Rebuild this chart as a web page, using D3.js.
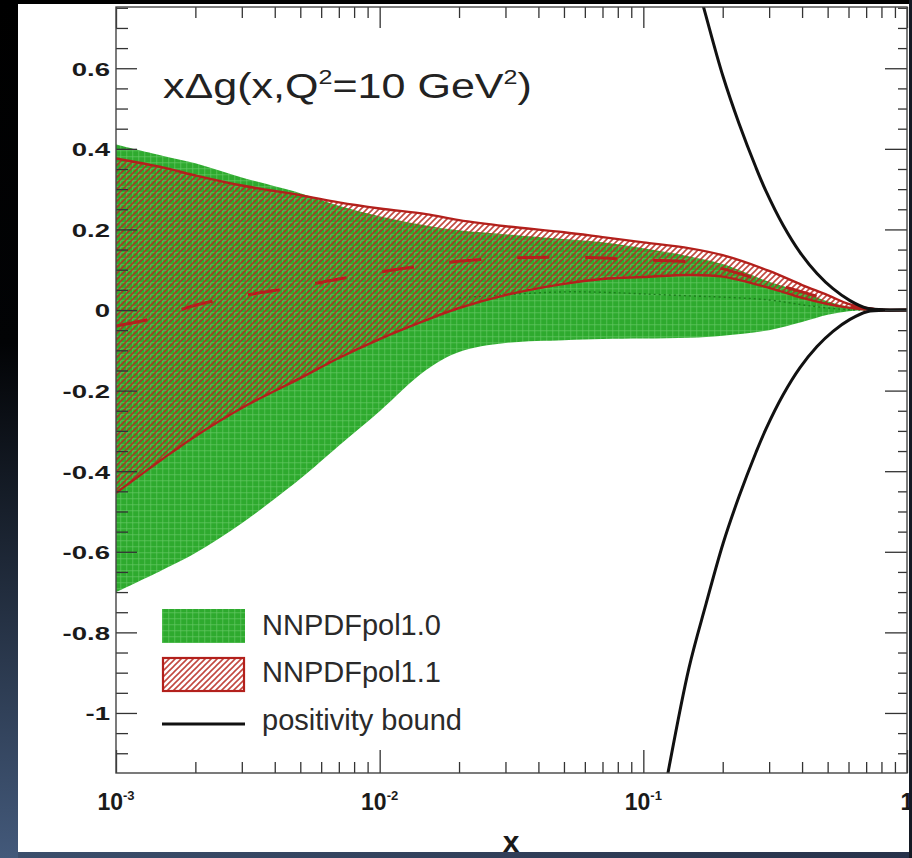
<!DOCTYPE html>
<html><head><meta charset="utf-8">
<script src="https://cdn.jsdelivr.net/npm/d3@7"></script>
<style>html,body{margin:0;padding:0;background:#000;} svg{display:block;}</style>
</head><body>
<svg id="chart" width="912" height="858"></svg>
<script>
// ---------------- data ----------------
const xGrid = [0.001, 0.0015, 0.002, 0.003, 0.005, 0.007, 0.01, 0.015, 0.02, 0.03, 0.05, 0.07, 0.1, 0.15, 0.2, 0.3, 0.4, 0.5, 0.6, 0.7, 0.8, 1.0];
const pol10Upper = [0.411, 0.383, 0.364, 0.329, 0.290, 0.259, 0.233, 0.210, 0.198, 0.188, 0.176, 0.168, 0.153, 0.133, 0.114, 0.070, 0.045, 0.022, 0.008, 0.002, 0.0, 0.0];
const pol10Lower = [-0.700, -0.645, -0.603, -0.529, -0.419, -0.337, -0.251, -0.149, -0.104, -0.082, -0.075, -0.072, -0.071, -0.069, -0.064, -0.050, -0.030, -0.012, -0.003, 0.0, 0.0, 0.0];
const pol11Upper = [0.376, 0.354, 0.334, 0.309, 0.285, 0.267, 0.252, 0.238, 0.223, 0.208, 0.193, 0.181, 0.168, 0.153, 0.136, 0.097, 0.062, 0.037, 0.015, 0.005, 0.0, 0.0];
const pol11Central = [-0.040, -0.015, 0.012, 0.035, 0.059, 0.077, 0.094, 0.111, 0.121, 0.129, 0.131, 0.129, 0.124, 0.119, 0.102, 0.068, 0.045, 0.026, 0.011, 0.004, 0.0, 0.0];
const pol11Lower = [-0.454, -0.370, -0.313, -0.243, -0.169, -0.119, -0.072, -0.025, 0.005, 0.037, 0.065, 0.077, 0.082, 0.087, 0.083, 0.055, 0.030, 0.015, 0.006, 0.001, 0.0, 0.0];
const pol10CentralX = [0.02, 0.03, 0.05, 0.07, 0.1, 0.15, 0.2, 0.3, 0.4, 0.5, 0.6, 0.7];
const pol10Central = [0.030, 0.038, 0.045, 0.044, 0.040, 0.035, 0.032, 0.025, 0.013, 0.005, 0.001, 0.0];
const boundX = [0.115, 0.124, 0.149, 0.1728, 0.2005, 0.2306, 0.2676, 0.2919, 0.3386, 0.3928, 0.4557, 0.524, 0.6078, 0.7051, 0.8619, 1.0];
const boundVal = [1.27, 1.149, 0.888, 0.73, 0.580, 0.463, 0.353, 0.295, 0.211, 0.143, 0.0906, 0.0529, 0.0233, 0.0042, 0.0003, 0.0];
const xMajorTicks = [0.001, 0.01, 0.1, 1];
const xTickExponents = ["-3", "-2", "-1", ""];
const yMajorTicks = [-1, -0.8, -0.6, -0.4, -0.2, 0, 0.2, 0.4, 0.6];
const legendLabels = ["NNPDFpol1.0", "NNPDFpol1.1", "positivity bound"];
const titleParts = ["x\u0394g(x,Q", "2", "=10 GeV", "2", ")"];

// ---------------- setup ----------------
const W = 912, H = 858;
const svg = d3.select('#chart');
const defs = svg.append('defs');
const FONT = "'Liberation Sans', Arial, Helvetica, sans-serif";

const bg = defs.append('linearGradient').attr('id', 'bgGrad').attr('x1', 0).attr('y1', 0).attr('x2', 0).attr('y2', 1);
bg.append('stop').attr('offset', '0%').attr('stop-color', '#000');
bg.append('stop').attr('offset', '40%').attr('stop-color', '#020305');
bg.append('stop').attr('offset', '100%').attr('stop-color', '#43597a');
const bot = defs.append('linearGradient').attr('id', 'botGrad').attr('x1', 0).attr('y1', 0).attr('x2', 1).attr('y2', 0);
bot.append('stop').attr('offset', '0%').attr('stop-color', '#3b4e6b');
bot.append('stop').attr('offset', '100%').attr('stop-color', '#27324a');

// green band fill
const gp = defs.append('pattern').attr('id', 'greenFill').attr('patternUnits', 'userSpaceOnUse').attr('width', 6).attr('height', 6);
gp.append('rect').attr('width', 6).attr('height', 6).attr('fill', '#2eaa2e');
gp.append('rect').attr('width', 1.3).attr('height', 6).attr('fill', '#66c866').attr('opacity', 0.5);
gp.append('rect').attr('width', 6).attr('height', 1.3).attr('fill', '#66c866').attr('opacity', 0.5);
// red hatch
const hp = defs.append('pattern').attr('id', 'redHatch').attr('patternUnits', 'userSpaceOnUse').attr('width', 6).attr('height', 6);
hp.append('path').attr('d', 'M-1,1 L1,-1 M0,6 L6,0 M5,7 L7,5').attr('stroke', '#b8281f').attr('stroke-width', 1.6).attr('stroke-opacity', 0.85);

svg.append('rect').attr('width', W).attr('height', H).attr('fill', 'url(#bgGrad)');
svg.append('rect').attr('x', 18).attr('y', 4).attr('width', 891).attr('height', 849).attr('fill', '#fff');

const plot = {left: 116, right: 907, top: 7, bottom: 773};
const x = d3.scaleLog().domain([1e-3, 1]).range([plot.left, plot.right]);
const y = d3.scaleLinear().domain([-1.149, 0.752]).range([plot.bottom, plot.top]);

defs.append('clipPath').attr('id', 'plotClip').append('rect')
  .attr('x', plot.left).attr('y', plot.top).attr('width', plot.right - plot.left).attr('height', plot.bottom - plot.top);

const gPlot = svg.append('g').attr('clip-path', 'url(#plotClip)');

const curve = d3.curveCatmullRom.alpha(0.5);
const band10 = xGrid.map((v, i) => ({x: v, lo: pol10Lower[i], hi: pol10Upper[i]}));
const band11 = xGrid.map((v, i) => ({x: v, lo: pol11Lower[i], hi: pol11Upper[i]}));
const area = d3.area().x(d => x(d.x)).y0(d => y(d.lo)).y1(d => y(d.hi)).curve(curve);
const line = d3.line().x(d => x(d[0])).y(d => y(d[1])).curve(curve);

gPlot.append('path').attr('d', area(band10)).attr('fill', 'url(#greenFill)');
gPlot.append('path').attr('d', line(pol10CentralX.map((v, i) => [v, pol10Central[i]])))
  .attr('fill', 'none').attr('stroke', '#1c7d1c').attr('stroke-width', 1.4).attr('stroke-dasharray', '2,3');
gPlot.append('path').attr('d', area(band11)).attr('fill', 'url(#redHatch)');
const redCol = '#b3201c';
gPlot.append('path').attr('d', line(xGrid.map((v, i) => [v, pol11Upper[i]])))
  .attr('fill', 'none').attr('stroke', redCol).attr('stroke-width', 2.4);
gPlot.append('path').attr('d', line(xGrid.map((v, i) => [v, pol11Lower[i]])))
  .attr('fill', 'none').attr('stroke', redCol).attr('stroke-width', 2.4);
gPlot.append('path').attr('d', line(xGrid.map((v, i) => [v, pol11Central[i]])))
  .attr('fill', 'none').attr('stroke', redCol).attr('stroke-width', 3).attr('stroke-dasharray', '32,36');
gPlot.append('path').attr('d', line(boundX.map((v, i) => [v, boundVal[i]])))
  .attr('fill', 'none').attr('stroke', '#111').attr('stroke-width', 3);
gPlot.append('path').attr('d', line(boundX.map((v, i) => [v, -boundVal[i]])))
  .attr('fill', 'none').attr('stroke', '#111').attr('stroke-width', 3);

// ---------------- axes ----------------
const minorX = [];
for (let e = -3; e < 0; e++) for (let m = 2; m <= 9; m++) minorX.push(m * Math.pow(10, e));
const minorY = d3.range(-22, 16).map(k => k * 0.05).filter(v => !yMajorTicks.some(t => Math.abs(t - v) < 1e-6));
const styleAxis = g => {
  g.select('.domain').remove();
  g.selectAll('.tick line').attr('stroke', '#333').attr('stroke-width', 1.3);
  g.selectAll('.tick text').remove();
};
svg.append('g').attr('transform', `translate(0,${plot.bottom})`).call(d3.axisBottom(x).tickValues(xMajorTicks).tickSizeInner(-23).tickSizeOuter(0)).call(styleAxis);
svg.append('g').attr('transform', `translate(0,${plot.bottom})`).call(d3.axisBottom(x).tickValues(minorX).tickSizeInner(-11).tickSizeOuter(0)).call(styleAxis);
svg.append('g').attr('transform', `translate(0,${plot.top})`).call(d3.axisTop(x).tickValues(xMajorTicks).tickSizeInner(-21).tickSizeOuter(0)).call(styleAxis);
svg.append('g').attr('transform', `translate(0,${plot.top})`).call(d3.axisTop(x).tickValues(minorX).tickSizeInner(-11).tickSizeOuter(0)).call(styleAxis);
const yAxisG = svg.append('g').attr('transform', `translate(${plot.left},0)`).call(d3.axisLeft(y).tickValues(yMajorTicks).tickSizeInner(-21).tickSizeOuter(0));
svg.append('g').attr('transform', `translate(${plot.left},0)`).call(d3.axisLeft(y).tickValues(minorY).tickSizeInner(-12).tickSizeOuter(0)).call(styleAxis);
svg.append('g').attr('transform', `translate(${plot.right},0)`).call(d3.axisRight(y).tickValues(yMajorTicks).tickSizeInner(-22).tickSizeOuter(0)).call(styleAxis);
svg.append('g').attr('transform', `translate(${plot.right},0)`).call(d3.axisRight(y).tickValues(minorY).tickSizeInner(-9).tickSizeOuter(0)).call(styleAxis);

yAxisG.select('.domain').remove();
yAxisG.selectAll('.tick line').attr('stroke', '#333').attr('stroke-width', 1.3);
yAxisG.selectAll('.tick text')
  .text(d => d === 0 ? '0' : String(+d.toFixed(1)))
  .attr('x', 0).attr('dy', '0.36em')
  .attr('transform', 'translate(-6,0) scale(1.45,1)')
  .attr('font-family', FONT).attr('font-weight', 'bold').attr('font-size', 19)
  .attr('fill', '#1a1a1a').attr('text-anchor', 'end');

// frame
svg.append('rect').attr('x', plot.left).attr('y', plot.top).attr('width', plot.right - plot.left).attr('height', plot.bottom - plot.top)
  .attr('fill', 'none').attr('stroke', '#444').attr('stroke-width', 1.4);

// x tick labels
const xl = svg.append('g').attr('font-family', FONT).attr('font-weight', 'bold').attr('fill', '#1a1a1a');
xMajorTicks.forEach((v, i) => {
  const t = xl.append('text').attr('x', x(v)).attr('y', 810).attr('text-anchor', 'middle').attr('font-size', 23);
  if (xTickExponents[i] === '') { t.text('1'); }
  else {
    t.append('tspan').text('10');
    t.append('tspan').attr('font-size', 13).attr('dy', -10).text(xTickExponents[i]);
  }
});
svg.append('text').attr('x', 511).attr('y', 852).attr('text-anchor', 'middle')
  .attr('font-family', FONT).attr('font-weight', 'bold').attr('font-size', 30).attr('fill', '#1a1a1a').text('x');

// title
const title = svg.append('text').attr('font-family', FONT).attr('font-size', 36).attr('fill', '#222');
title.append('tspan').text(titleParts[0]);
title.append('tspan').attr('font-size', 21).attr('dy', -14).text(titleParts[1]);
title.append('tspan').attr('dy', 14).text(titleParts[2]);
title.append('tspan').attr('font-size', 21).attr('dy', -14).text(titleParts[3]);
title.append('tspan').attr('dy', 14).text(titleParts[4]);
const tb = title.node().getBBox();
const ts = 369 / tb.width;
title.attr('transform', `translate(${163 - tb.x * ts},98) scale(${ts},1)`);

// legend
const lg = svg.append('g');
lg.append('rect').attr('x', 162).attr('y', 609).attr('width', 83).attr('height', 34).attr('fill', 'url(#greenFill)');
lg.append('rect').attr('x', 163).attr('y', 658).attr('width', 81).attr('height', 33).attr('fill', 'url(#redHatch)')
  .attr('stroke', redCol).attr('stroke-width', 2.2);
lg.append('line').attr('x1', 162).attr('x2', 245).attr('y1', 724).attr('y2', 724).attr('stroke', '#111').attr('stroke-width', 3);
[635, 682, 730].forEach((yy, i) => {
  lg.append('text').attr('x', 262).attr('y', yy).attr('font-family', FONT).attr('font-size', 29).attr('fill', '#2a2a2a').text(legendLabels[i]);
});

// outer border strips drawn last
svg.append('rect').attr('x', 18).attr('y', 852).attr('width', W - 18).attr('height', 6).attr('fill', 'url(#botGrad)');
svg.append('rect').attr('x', 909).attr('y', 0).attr('width', 3).attr('height', H).attr('fill', '#141a24');
</script>
</body></html>
